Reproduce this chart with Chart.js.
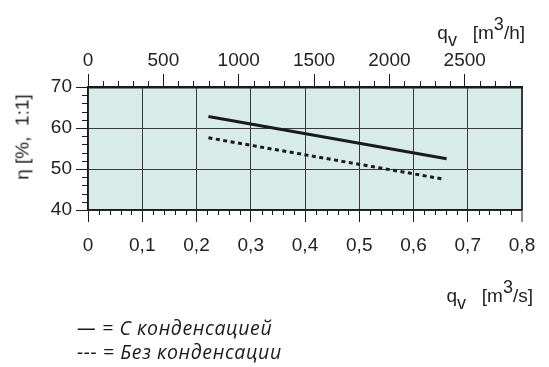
<!DOCTYPE html>
<html>
<head>
<meta charset="utf-8">
<script src="https://cdn.jsdelivr.net/npm/chart.js@4.4.1/dist/chart.umd.min.js"></script>
<style>
  html, body { margin: 0; padding: 0; background: #fff; }
  #wrap { position: relative; width: 549px; height: 367px; overflow: hidden; }
  canvas { position: absolute; left: 0; top: 0; }
  .t { position: absolute; font-family: "Liberation Sans", Arial, sans-serif; font-size: 19px; color: #222; white-space: pre; line-height: 19px; }
  .sub { position: relative; top: 7px; font-size: 18px; }
  .sup { position: relative; top: -9px; font-size: 18px; }
  .leg { position: absolute; font-family: "Open Sans", sans-serif; font-style: italic; font-size: 19.5px; letter-spacing: 0.6px; color: #1a1a1a; white-space: pre; line-height: 20px; }
</style>
</head>
<body>
<div id="wrap">
  <canvas id="c" width="549" height="367"></canvas>
  <div class="t" style="right:24px; top:23px;">q<span class="sub">v</span>   [m<span class="sup">3</span>/h]</div>
  <div class="t" style="right:16px; top:286px;">q<span class="sub">v</span>   [m<span class="sup">3</span>/s]</div>
  <div class="t" style="left:22px; top:137px; transform: translate(-50%,-50%) rotate(-90deg); transform-origin: center;">η [%,  1:1]</div>
  <div class="leg" style="left:77px; top:318px;">— = С конденсацией</div>
  <div class="leg" style="left:77px; top:342px;">--- = Без конденсации</div>
</div>
<script>
// ---- data ----
const bottomTickValues = [0, 0.1, 0.2, 0.3, 0.4, 0.5, 0.6, 0.7, 0.8];
const bottomTickLabels = ['0', '0,1', '0,2', '0,3', '0,4', '0,5', '0,6', '0,7', '0,8'];
const topTickValues = [0, 500, 1000, 1500, 2000, 2500];
const topTickLabels = ['0', '500', '1000', '1500', '2000', '2500'];
const yTickValues = [40, 50, 60, 70];
const yTickLabels = ['40', '50', '60', '70'];

const withCondX = [0.222, 0.661];      // q_v [m3/s]
const withCondY = [62.8, 52.5];        // eta [%]
const withoutCondX = [0.222, 0.657];
const withoutCondY = [57.6, 47.5];

const seriesNames = ['С конденсацией', 'Без конденсации'];

const toPts = (xs, ys) => xs.map((x, i) => ({ x: x, y: ys[i] }));
const setTicks = (vals) => (s) => { s.ticks = vals.map((v) => ({ value: v })); };

const bgPlugin = {
  id: 'bg',
  beforeDraw(chart) {
    const { ctx, chartArea: a } = chart;
    ctx.save();
    ctx.fillStyle = '#d7ece8';
    ctx.fillRect(a.left, a.top, a.right - a.left, a.bottom - a.top);
    ctx.restore();
  }
};

const minorTicks = {
  id: 'minorTicks',
  afterDraw(chart) {
    const { ctx, chartArea: a, scales } = chart;
    ctx.save();
    ctx.strokeStyle = '#1a1a1a';
    ctx.lineWidth = 1;
    ctx.beginPath();
    for (let i = 0; i <= 40; i++) {
      if (i % 5 === 0) continue;
      const px = Math.round(scales.x.getPixelForValue(i * 0.02)) + 0.5;
      ctx.moveTo(px, a.bottom); ctx.lineTo(px, a.bottom + 5);
    }
    for (let i = 0; i <= 28; i++) {
      if (i % 5 === 0) continue;
      const px = Math.round(scales.x2.getPixelForValue(i * 100)) + 0.5;
      ctx.moveTo(px, a.top); ctx.lineTo(px, a.top - 6);
    }
    for (let i = 20; i <= 35; i++) {
      if (i % 5 === 0) continue;
      const py = Math.round(scales.y.getPixelForValue(i * 2)) + 0.5;
      ctx.moveTo(a.left, py); ctx.lineTo(a.left - 6, py);
    }
    ctx.stroke();
    ctx.restore();
  }
};

const tickFont = { family: '"Liberation Sans", Arial, sans-serif', size: 19 };

new Chart(document.getElementById('c'), {
  type: 'scatter',
  data: {
    datasets: [
      {
        label: seriesNames[0],
        data: toPts(withCondX, withCondY),
        showLine: true,
        borderColor: '#1a1a1a',
        borderWidth: 3,
        pointRadius: 0,
        xAxisID: 'x', yAxisID: 'y'
      },
      {
        label: seriesNames[1],
        data: toPts(withoutCondX, withoutCondY),
        showLine: true,
        borderColor: '#1a1a1a',
        borderWidth: 3,
        borderDash: [4, 3.5],
        pointRadius: 0,
        xAxisID: 'x', yAxisID: 'y'
      }
    ]
  },
  options: {
    responsive: false,
    animation: false,
    layout: { padding: { left: 0, right: 27, top: 0, bottom: 0 } },
    plugins: { legend: { display: false }, tooltip: { enabled: false } },
    scales: {
      x: {
        type: 'linear', position: 'bottom', min: 0, max: 0.8, bounds: 'data',
        afterFit(s) { s.height = 157; },
        afterBuildTicks: setTicks(bottomTickValues),
        ticks: {
          color: '#222', font: tickFont, padding: 12, maxRotation: 0, autoSkip: false,
          callback: (v, i) => bottomTickLabels[i]
        },
        grid: {
          color: '#3a3a3a', lineWidth: (c) => (c.index === 8 ? 2 : 1),
          tickLength: 12, tickColor: '#1a1a1a', tickWidth: 1
        },
        border: { display: true, color: '#1a1a1a', width: 1.5 }
      },
      x2: {
        type: 'linear', position: 'top', min: 0, max: 2880, bounds: 'data',
        afterFit(s) { s.height = 87; },
        afterBuildTicks: setTicks(topTickValues),
        ticks: {
          color: '#222', font: tickFont, padding: 2, maxRotation: 0, autoSkip: false,
          callback: (v, i) => topTickLabels[i]
        },
        grid: { drawOnChartArea: false, tickLength: 13, tickColor: '#1a1a1a', tickWidth: 1 },
        border: { display: true, color: '#1a1a1a', width: 2.5 }
      },
      y: {
        type: 'linear', position: 'left', min: 40, max: 70, bounds: 'data',
        afterFit(s) { s.width = 88; },
        afterBuildTicks: setTicks(yTickValues),
        ticks: {
          color: '#222', font: tickFont, padding: 4, autoSkip: false,
          callback: (v, i) => yTickLabels[i]
        },
        grid: { color: '#3a3a3a', lineWidth: 1, tickLength: 12, tickColor: '#1a1a1a' },
        border: { display: true, color: '#1a1a1a', width: 1.5 }
      }
    }
  },
  plugins: [bgPlugin, minorTicks]
});
</script>
</body>
</html>
